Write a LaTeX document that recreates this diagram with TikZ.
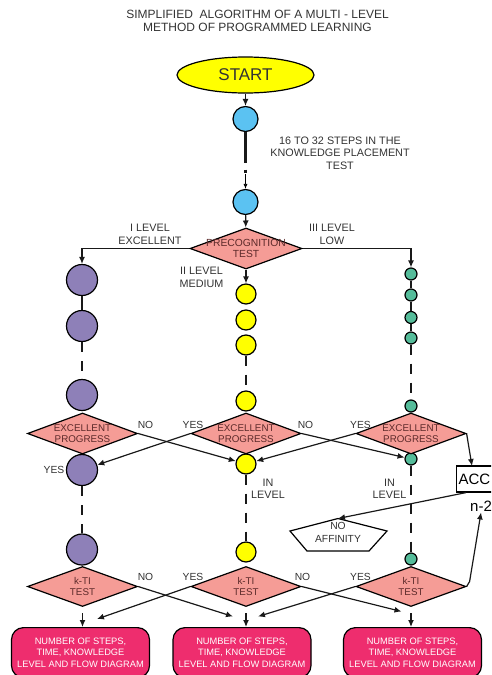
\documentclass[tikz,border=0pt]{standalone}
\usepackage{fontspec}
\setmainfont{Liberation Sans}
\usetikzlibrary{shapes,arrows.meta,positioning,calc}
\definecolor{txtgray}{HTML}{333333}
\definecolor{diatext}{HTML}{5C2A2A}
\definecolor{diapink}{HTML}{F59C96}
\definecolor{startyellow}{HTML}{FFFF00}
\definecolor{dotblue}{HTML}{5BC2F2}
\definecolor{dotpurple}{HTML}{8E80B8}
\definecolor{dotyellow}{HTML}{FFFF00}
\definecolor{dotteal}{HTML}{55BC9A}
\definecolor{resmagenta}{HTML}{EE2D6E}
\newcommand{\twolines}[2]{\makebox[0pt]{#1}\\\makebox[0pt]{#2}}

\begin{document}
\begin{tikzpicture}
[
	x=1pt,y=-1pt,
	every node/.style={text=txtgray,font=\fontsize{10.3}{12}\selectfont},
	dia/.style={diamond,draw=black,line width=1.2pt,fill=diapink,minimum width=110pt,minimum height=41pt,inner sep=0pt,align=center,text=diatext,font=\fontsize{9.8}{10.5}\selectfont},
	dot/.style={circle,draw=black,line width=1.2pt,inner sep=0pt},
	resbox/.style={rectangle,rounded corners=12pt,draw=black,line width=1.2pt,fill=resmagenta,text=white,minimum width=138pt,minimum height=50pt,anchor=north,align=center,inner sep=1pt,font=\fontsize{9.3}{11.3}\selectfont},
	arr/.style={-{Latex[length=7pt,width=6pt]},line width=1.2pt,draw=black!90},
	link/.style={line width=2.5pt,draw=black!90},
	chain/.style={line width=2.5pt,draw=black!90,dash pattern=on 10pt off 9pt},
	lbl/.style={align=center,font=\fontsize{10.8}{12.5}\selectfont},
]
	\useasboundingbox (0,0) rectangle (491,675);
	\clip (0,0) rectangle (491,675);

	\node[font=\fontsize{12}{13.5}\selectfont,align=center] (title) at (257.5,21) {SIMPLIFIED\ \ ALGORITHM OF A MULTI - LEVEL\\METHOD OF PROGRAMMED LEARNING};

	\begin{scope}
		\node[ellipse,draw=black,line width=1.2pt,fill=startyellow,minimum width=137pt,minimum height=36pt,font=\fontsize{17}{17}\selectfont] (start) at (245.5,75) {START};
		\node[dot,fill=dotblue,minimum size=25pt] (b1) at (245.5,119){};
		\node[dot,fill=dotblue,minimum size=25pt] (b2) at (245.5,202){};
		\coordinate (bdash) at (245.5,163);
		\coordinate (bdot1) at (245.5,169.5);
		\coordinate (bdot2) at (245.5,172.5);
		\coordinate (bthin) at (245.5,174);
		\node[lbl] (steps) at (340,153) {16 TO 32 STEPS IN THE\\KNOWLEDGE PLACEMENT\\TEST};

		\draw[arr] (start) -- (b1);
		\draw[link] (b1) -- (bdash);
		\draw[link] (bdot1) -- (bdot2);
		\draw[-{Latex[length=5pt,width=4pt]},line width=0.7pt] (bthin) -- (b2);
	\end{scope}

	\begin{scope}
		\node[dia,minimum width=112pt,font=\fontsize{10.3}{11}\selectfont] (pre) at (246,248.5) {\twolines{PRECOGNITION}{TEST}};
		\node[lbl] (lvlone) at (150,234.5) {I LEVEL\\EXCELLENT};
		\node[lbl] (lvltwo) at (201.5,277.5) {II LEVEL\\MEDIUM};
		\node[lbl] (lvlthree) at (332,234.5) {III LEVEL\\LOW};
		\draw[arr] (b2) -- (pre);
	\end{scope}

	\foreach \n/\y in {1/280,2/326,3/395,4/470,5/549.5}
		\node[dot,fill=dotpurple,minimum size=31pt] (p\n) at (82,\y){};
	\foreach \n/\y in {1/294,2/320,3/345,4/401,5/464,6/552}
		\node[dot,fill=dotyellow,minimum size=20pt] (y\n) at (246,\y){};
	\foreach \n/\y in {1/274,2/295,3/317.5,4/338,5/406,6/459,7/559}
		\node[dot,fill=dotteal,minimum size=12pt] (t\n) at (411,\y){};

	\draw[arr] (pre.west) -| (p1);
	\draw[arr] (pre.south) -- (y1);
	\draw[arr] (pre.east) -| (t1);

	\draw[link] (p1) -- (p2);
	\draw[chain] (p2) -- (p3);
	\draw[chain] (p4) -- (p5);
	\draw[chain] (y3) -- (y4);
	\draw[chain] (y5) -- (y6);
	\draw[link] (t1) -- (t2) -- (t3) -- (t4);
	\draw[chain] (t4) -- (t5);
	\draw[chain] (t6) -- (t7);

	\begin{scope}
		\node[dia] (epL) at (82.5,433.5) {\twolines{EXCELLENT}{PROGRESS}};
		\node[dia] (epM) at (246,433.5) {\twolines{EXCELLENT}{PROGRESS}};
		\node[dia] (epR) at (411,433.5) {\twolines{EXCELLENT}{PROGRESS}};

		\node (noA) at (145.5,425) {NO};
		\node (yesA) at (193,425) {YES};
		\node (noB) at (305.5,425) {NO};
		\node (yesB) at (360.5,425) {YES};
		\node (yesC) at (54,470) {YES};
		\node[lbl] (inM) at (268,489) {IN\\LEVEL};
		\node[lbl] (inR) at (389.5,489) {IN\\LEVEL};

		\node[draw=black,line width=1.2pt,anchor=west,minimum height=26pt,text width=60pt,align=left,inner xsep=2pt,text=black,font=\fontsize{15}{15}\selectfont] (acc) at (456,479) {ACC};
		\node[anchor=west,inner sep=1pt,text=black,font=\fontsize{15}{15}\selectfont] (n2) at (469,506) {n-2};
		\coordinate (accin) at (472,466);

		\coordinate (naTop) at (338,518.5);
		\draw[line width=1.2pt,fill=white] (naTop) -- (387,531) -- (369,551) -- (307,551) -- (290,531) -- cycle;
		\node[lbl,font=\fontsize{10.3}{12.5}\selectfont] (noaff) at (338,532.5) {NO\\AFFINITY};

		\draw[arr] (epL.east) -- (y5);
		\draw[arr] (epM.west) -- (p4);
		\draw[arr] (epM.east) -- (t6);
		\draw[arr] (epR.west) -- (y5);
		\draw[arr] (epR.east) -- (accin);
		\draw[arr] ([xshift=10pt]acc.south west) -- (naTop);
	\end{scope}

	\begin{scope}
		\node[dia,minimum height=40pt] (ktiL) at (82.5,586.5) {\twolines{k-TI}{TEST}};
		\node[dia,minimum height=40pt] (ktiM) at (246,586.5) {\twolines{k-TI}{TEST}};
		\node[dia,minimum height=40pt] (ktiR) at (411,586.5) {\twolines{k-TI}{TEST}};

		\node (noC) at (145.5,577) {NO};
		\node (yesD) at (193,577) {YES};
		\node (noD) at (302.5,577) {NO};
		\node (yesE) at (360.5,577) {YES};

		\node[resbox] (resL) at (80.5,627) {NUMBER OF STEPS,\\TIME, KNOWLEDGE\\LEVEL AND FLOW DIAGRAM};
		\node[resbox] (resM) at (242,627) {NUMBER OF STEPS,\\TIME, KNOWLEDGE\\LEVEL AND FLOW DIAGRAM};
		\node[resbox] (resR) at (412.5,627) {NUMBER OF STEPS,\\TIME, KNOWLEDGE\\LEVEL AND FLOW DIAGRAM};

		\coordinate (inResM) at (233,616.5);
		\coordinate (inResL) at (97,619);
		\coordinate (inResR) at (401.5,611.5);
		\coordinate (inResMr) at (258,616.5);

		\draw[arr] (ktiL.east) -- (inResM);
		\draw[arr] (ktiM.west) -- (inResL);
		\draw[arr] (ktiM.east) -- (inResR);
		\draw[arr] (ktiR.west) -- (inResMr);
		\draw[arr] (ktiR.east) -- ++(3,-5) -- (n2.south);

		\draw[arr,shorten <=6pt] (ktiL.south) -- (ktiL.south |- resL.north);
		\draw[arr,shorten <=6pt] (ktiM.south) -- (ktiM.south |- resM.north);
		\draw[arr,shorten <=6pt] (ktiR.south) -- (ktiR.south |- resR.north);
	\end{scope}
\end{tikzpicture}
\end{document}
